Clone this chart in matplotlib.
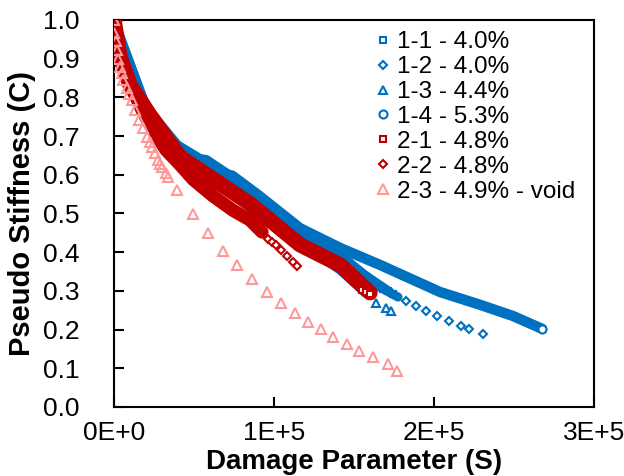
import matplotlib
matplotlib.use("Agg")
import matplotlib.pyplot as plt
from matplotlib.ticker import FuncFormatter, MultipleLocator

plt.rcParams['font.family'] = ['Liberation Sans', 'DejaVu Sans']

# damage parameter S and pseudo stiffness C
# dense part of each test is drawn as a band, tail as single markers
s11_S = [0, 8750, 22500, 41250, 61900, 85000, 116250, 141250, 156900, 172500]
s11_C = [1.0, 0.855, 0.752, 0.656, 0.607, 0.545, 0.447, 0.393, 0.341, 0.297]
s11_tS = [164400, 168100, 171300, 174400]
s11_tC = [0.310, 0.305, 0.300, 0.292]

s12_S = [0, 22500, 53750, 85000, 116250, 141250, 160000, 177500]
s12_C = [1.0, 0.749, 0.618, 0.535, 0.437, 0.380, 0.323, 0.284]
s12_tS = [182500, 188750, 195000, 201900, 209400, 216900, 221900, 230600]
s12_tC = [0.274, 0.261, 0.248, 0.235, 0.222, 0.209, 0.202, 0.189]

s13_S = [0, 22500, 53750, 85000, 116250, 141250, 156900]
s13_C = [1.0, 0.747, 0.607, 0.522, 0.424, 0.354, 0.295]
s13_tS = [163750, 170000, 173100]
s13_tC = [0.269, 0.256, 0.248]

s14_S = [0, 1250, 3750, 8750, 22500, 39400, 53800, 57500, 71300, 73800, 89400,
         116300, 141300, 166300, 203800, 228800, 249400, 267500]
s14_C = [0.995, 0.948, 0.910, 0.863, 0.761, 0.676, 0.640, 0.638, 0.600, 0.598, 0.550,
         0.462, 0.411, 0.367, 0.297, 0.264, 0.235, 0.202]
s14_tS = [267500]
s14_tC = [0.202]

s21_S = [0, 3750, 10000, 22500, 41250, 61900, 85000, 116250, 141250, 160000]
s21_C = [1.0, 0.904, 0.832, 0.754, 0.646, 0.589, 0.525, 0.419, 0.367, 0.295]
s21_tS = [155000, 157500, 160000]
s21_tC = [0.302, 0.297, 0.292]

s22_S = [0, 3750, 10600, 18100, 25000, 32500, 41250, 49400, 61900, 74400, 85000, 92500]
s22_C = [1.0, 0.912, 0.829, 0.762, 0.711, 0.664, 0.626, 0.588, 0.545, 0.508, 0.483, 0.452]
s22_tS = [96250, 98750, 101250, 104400, 108100, 111900, 114400]
s22_tC = [0.434, 0.426, 0.419, 0.406, 0.390, 0.375, 0.364]

s23_S = [0, 300, 1000, 1900, 2800, 3750, 4700, 5600, 8100, 9600, 11250, 13100, 15600,
         18100, 20600, 22200, 23750, 25600, 27500, 28800, 30000, 32500, 33750, 39400,
         49400, 58750, 68100, 76900, 86300, 95600, 104400, 113100, 121300, 129400,
         136900, 145600, 153100, 161900, 171300, 176900]
s23_C = [1.0, 0.966, 0.945, 0.922, 0.900, 0.879, 0.862, 0.845, 0.824, 0.808, 0.793,
         0.767, 0.742, 0.721, 0.698, 0.685, 0.672, 0.656, 0.638, 0.629, 0.620, 0.605,
         0.594, 0.561, 0.499, 0.450, 0.403, 0.367, 0.331, 0.297, 0.269, 0.243, 0.220,
         0.202, 0.181, 0.163, 0.145, 0.129, 0.111, 0.093]

labels = ['1-1 - 4.0%', '1-2 - 4.0%', '1-3 - 4.4%', '1-4 - 5.3%',
          '2-1 - 4.8%', '2-2 - 4.8%', '2-3 - 4.9% - void']

blue = '#0070C0'
red = '#C00000'
pink = '#FF9999'

fig = plt.figure(figsize=(6.24, 4.76), dpi=100)
ax = fig.add_axes([0.1827, 0.145, 0.7693, 0.813])

bands = [
    (s11_S, s11_C, s11_tS, s11_tC, blue, 's', 6.5, 5.0),
    (s12_S, s12_C, s12_tS, s12_tC, blue, 'D', 6.5, 4.2),
    (s13_S, s13_C, s13_tS, s13_tC, blue, '^', 6.5, 5.5),
    (s14_S, s14_C, s14_tS, s14_tC, blue, 'o', 7.5, 5.8),
    (s21_S, s21_C, s21_tS, s21_tC, red, 's', 11.0, 5.0),
    (s22_S, s22_C, s22_tS, s22_tC, red, 'D', 9.5, 4.2),
]
for i, (xs, ys, tx, ty, col, mk, lw, ms) in enumerate(bands):
    ax.plot(xs, ys, '-', color=col, lw=lw, solid_capstyle='round',
            solid_joinstyle='round', zorder=2 + i)
    ax.plot(tx, ty, ls='none', marker=mk, ms=ms, mfc='white', mec=col, mew=1.5,
            label=labels[i], zorder=2 + i)

ax.plot(s23_S, s23_C, ls='none', marker='^', ms=6.5, mfc='none', mec=pink, mew=1.5,
        label=labels[6], zorder=10)

ax.set_xlim(0, 300000)
ax.set_ylim(0, 1.0)
ax.xaxis.set_major_locator(MultipleLocator(100000))
ax.yaxis.set_major_locator(MultipleLocator(0.1))


def sci(v, pos):
    if v == 0:
        return '0E+0'
    e = len(str(int(v))) - 1
    return '%dE+%d' % (round(v / 10 ** e), e)


ax.xaxis.set_major_formatter(FuncFormatter(sci))
ax.yaxis.set_major_formatter(FuncFormatter(lambda v, p: '%.1f' % v))

ax.tick_params(axis='both', direction='in', labelsize=19, width=1.5, length=7)
ax.tick_params(axis='y', pad=25)
ax.tick_params(axis='x', pad=10)
for sp in ax.spines.values():
    sp.set_linewidth(1.5)

ax.set_xlabel('Damage Parameter (S)', fontsize=20, fontweight='bold', labelpad=3)
ax.set_ylabel('Pseudo Stiffness (C)', fontsize=21, fontweight='bold', labelpad=5)

leg = ax.legend(loc='upper right', frameon=False, fontsize=17.5, handletextpad=0.1,
                labelspacing=0.12, handlelength=1.0, borderaxespad=0.3,
                bbox_to_anchor=(0.997, 1.015))

fig.savefig('out.png', dpi=100)
